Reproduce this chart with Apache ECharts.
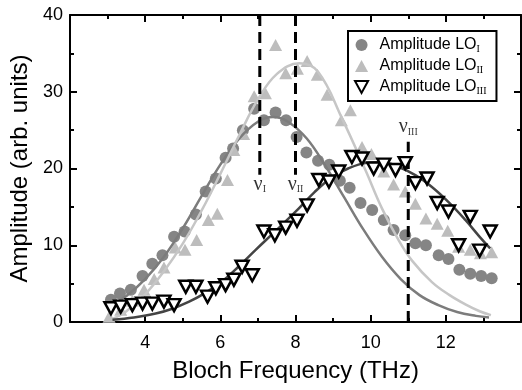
<!DOCTYPE html>
<html>
<head>
<meta charset="utf-8">
<script src="https://cdn.jsdelivr.net/npm/echarts@6/dist/echarts.min.js"></script>
<style>html,body{margin:0;padding:0;background:#fff}#c{width:522px;height:390px}</style>
</head>
<body>
<div id="c"></div>
<script>
const seriesNames = ['Amplitude LOI', 'Amplitude LOII', 'Amplitude LOIII'];
const xTickLabels = [4, 6, 8, 10, 12];
const yTickLabels = [0, 10, 20, 30, 40];

const ampI = [[3.09,2.9],[3.33,3.7],[3.62,4.2],[3.93,6.0],[4.19,7.6],[4.46,8.7],[4.77,11.1],[5.05,11.8],[5.35,14.0],[5.61,17.0],[5.88,18.7],[6.14,21.4],[6.34,22.6],[6.6,25.0],[6.9,27.8],[7.16,26.3],[7.47,27.3],[7.75,26.3],[8.03,24.1],[8.29,22.1],[8.6,21.0],[8.9,20.5],[9.18,18.4],[9.44,17.5],[9.73,15.5],[10.04,14.6],[10.35,13.3],[10.61,12.0],[10.92,11.3],[11.19,10.25],[11.47,10.0],[11.81,8.7],[12.07,8.2],[12.36,6.8],[12.65,6.3],[12.94,6.0],[13.22,5.7]];
const ampII = [[3.04,0.7],[3.35,1.6],[3.66,2.8],[3.97,4.2],[4.24,5.6],[4.5,7.1],[4.8,9.7],[5.06,9.4],[5.37,10.7],[5.68,13.3],[5.92,14.1],[6.19,18.5],[6.36,22.4],[6.62,24.5],[6.9,29.4],[7.2,29.8],[7.47,36.1],[7.74,32.4],[8.05,33.0],[8.31,34.0],[8.58,32.2],[8.84,29.6],[9.22,26.3],[9.46,27.6],[9.77,22.8],[10.02,21.9],[10.35,19.6],[10.61,17.9],[10.92,17.0],[11.19,15.4],[11.47,13.5],[11.77,12.8],[12.05,11.9],[12.34,9.8],[12.65,9.4],[12.92,8.95],[13.22,9.1]];
const ampIII = [[3.09,1.8],[3.35,2.0],[3.66,2.2],[3.93,2.4],[4.19,2.4],[4.5,2.65],[4.77,2.2],[5.08,4.6],[5.35,4.6],[5.66,3.3],[5.88,4.4],[6.14,4.8],[6.36,5.5],[6.58,7.2],[6.85,6.1],[7.16,11.8],[7.45,11.3],[7.74,12.3],[8.04,13.2],[8.31,15.2],[8.62,18.5],[8.89,18.3],[9.15,19.6],[9.5,21.5],[9.77,21.3],[10.08,20.0],[10.35,20.5],[10.66,19.8],[10.92,20.7],[11.19,18.1],[11.5,18.7],[11.77,15.5],[12.07,14.4],[12.34,10.0],[12.65,13.7],[12.9,9.3],[13.18,11.8]];

const fitI = [[3.1,2.2],[3.5,3.4],[4.0,5.6],[4.5,8.5],[5.0,12.2],[5.5,16.4],[6.0,20.5],[6.5,23.9],[7.0,26.1],[7.4,26.7],[7.8,26.1],[8.3,23.9],[8.8,20.3],[9.3,16.2],[9.8,12.1],[10.3,8.5],[10.8,5.6],[11.3,3.5],[11.8,2.2],[12.3,1.3],[12.8,0.8],[13.15,0.6]];
const fitII = [[3.13,0.4],[3.5,1.4],[4.0,3.6],[4.5,6.6],[5.0,10.2],[5.5,14.5],[6.0,19.3],[6.5,24.3],[7.0,29.0],[7.5,32.3],[8.1,33.7],[8.6,32.6],[9.24,26.5],[9.86,19.8],[10.3,14.8],[10.75,10.6],[11.1,8.0],[11.63,5.2],[12.1,3.5],[12.52,2.3],[12.9,1.4],[13.2,0.9]];
const fitIII = [[3.13,0.3],[3.7,0.6],[4.28,1.1],[4.7,1.7],[5.17,2.65],[5.6,3.8],[6.05,5.3],[6.5,7.3],[6.94,9.4],[7.5,12.0],[8.09,14.8],[8.5,16.9],[8.98,18.9],[9.4,20.0],[9.86,20.7],[10.3,20.8],[10.75,20.2],[11.2,19.1],[11.63,17.6],[12.1,15.5],[12.52,13.3],[12.9,11.1],[13.18,9.6]];

// vertical markers: frequency, dashed segment from/to (amplitude), label anchor amplitude, numeral
const nuFreq = [7.05, 8.0, 11.0];
const nuFrom = [40, 40, 0];
const nuTo = [19.2, 19.2, 23.5];
const nuLabelAt = [17.9, 17.9, 25.4];
const nuNumeral = ['I', 'II', 'III'];

const SANS = 'Liberation Sans, Arial, sans-serif';
const SERIF = 'Liberation Serif, Times New Roman, serif';
const UP_TRI = 'path://M6,0L12,11L0,11Z';
const DOWN_TRI = 'path://M0,0L12,0L6,11Z';

const chart = echarts.init(document.getElementById('c'), null, {renderer: 'canvas'});

const axisCommon = {
  type: 'value',
  splitLine: {show: false},
  axisLine: {show: true, onZero: false, lineStyle: {color: '#000', width: 2}},
  axisTick: {show: true, inside: true, length: 7, lineStyle: {color: '#000', width: 2}},
  minorTick: {show: true, splitNumber: 2, length: 4, lineStyle: {color: '#000', width: 2}}
};

const nuSeries = nuFreq.map((f, i) => ({
  type: 'line',
  data: [[f, nuFrom[i]], [f, nuTo[i]]],
  symbol: 'none',
  lineStyle: {color: '#000', width: 3, type: [11, 6]},
  silent: true,
  z: 3
}));

const option = {
  animation: false,
  backgroundColor: '#fff',
  grid: {left: 70, right: 1, top: 15, bottom: 68},
  xAxis: [
    Object.assign({}, axisCommon, {
      min: 2, max: 14, interval: 2, position: 'bottom',
      axisLabel: {
        show: true, fontSize: 18, color: '#000', fontFamily: SANS, margin: 12,
        showMinLabel: false, showMaxLabel: false,
        formatter: v => xTickLabels.indexOf(v) >= 0 ? String(v) : ''
      },
      name: 'Bloch Frequency (THz)', nameLocation: 'middle', nameGap: 37,
      nameTextStyle: {fontSize: 24, color: '#000', fontFamily: SANS}
    }),
    Object.assign({}, axisCommon, {
      min: 2, max: 14, interval: 2, position: 'top',
      axisLabel: {show: false}
    })
  ],
  yAxis: [
    Object.assign({}, axisCommon, {
      min: 0, max: 40, interval: 10, position: 'left',
      axisLabel: {
        show: true, fontSize: 18, color: '#000', fontFamily: SANS, margin: 7,
        formatter: v => yTickLabels.indexOf(v) >= 0 ? String(v) : ''
      },
      name: 'Amplitude (arb. units)', nameLocation: 'middle', nameGap: 35, nameRotate: 90,
      nameTextStyle: {fontSize: 24, color: '#000', fontFamily: SANS}
    }),
    Object.assign({}, axisCommon, {
      min: 0, max: 40, interval: 10, position: 'right',
      axisLabel: {show: false}
    })
  ],
  legend: {
    data: [
      {name: seriesNames[0], icon: 'circle'},
      {name: seriesNames[1], icon: UP_TRI},
      {name: seriesNames[2], icon: DOWN_TRI}
    ],
    orient: 'vertical',
    left: 348, top: 31,
    padding: [5, 10, 5, 6],
    itemGap: 3,
    itemWidth: 26, itemHeight: 12,
    symbolKeepAspect: true,
    borderColor: '#000', borderWidth: 2,
    backgroundColor: '#fff',
    textStyle: {
      fontSize: 16, fontFamily: SANS, color: '#000', lineHeight: 18,
      rich: {sub: {fontSize: 10, fontFamily: SERIF, color: '#000', verticalAlign: 'bottom', lineHeight: 18}}
    },
    formatter: name => name.replace(/LO(I+)$/, 'LO{sub|$1}')
  },
  series: [
    {
      name: seriesNames[0], type: 'scatter', data: ampI,
      symbol: 'circle', symbolSize: 12,
      itemStyle: {color: '#858585', opacity: 1}, z: 2
    },
    {
      name: seriesNames[1], type: 'scatter', data: ampII,
      symbol: 'triangle', symbolSize: [13, 12],
      itemStyle: {color: '#bdbdbd', opacity: 1}, z: 2
    },
    {
      type: 'line', data: fitI, smooth: 0.4, symbol: 'none',
      lineStyle: {color: '#7c7c7c', width: 2.5}, z: 3, silent: true
    },
    {
      type: 'line', data: fitII, smooth: 0.4, symbol: 'none',
      lineStyle: {color: '#c6c6c6', width: 2.5}, z: 3, silent: true
    },
    {
      type: 'line', data: fitIII, smooth: 0.4, symbol: 'none',
      lineStyle: {color: '#444444', width: 2.5}, z: 3, silent: true
    },
    {
      name: seriesNames[2], type: 'scatter', data: ampIII,
      symbol: 'triangle', symbolRotate: 180, symbolSize: [13, 12],
      itemStyle: {color: '#fff', borderColor: '#000', borderWidth: 2.5, opacity: 1}, z: 4
    },
    ...nuSeries,
    {
      type: 'scatter',
      data: nuFreq.map((f, i) => [f, nuLabelAt[i], nuNumeral[i]]),
      symbolSize: 1,
      itemStyle: {color: 'rgba(0,0,0,0)'},
      silent: true, z: 5,
      label: {
        show: true, position: 'inside',
        formatter: p => '{nu|ν}{sub|' + p.value[2] + '}',
        rich: {
          nu: {fontSize: 20, fontFamily: SERIF, color: '#000', verticalAlign: 'bottom', lineHeight: 20},
          sub: {fontSize: 10, fontFamily: SERIF, color: '#000', verticalAlign: 'bottom', lineHeight: 20}
        }
      }
    }
  ]
};
chart.setOption(option);
</script>
</body>
</html>
